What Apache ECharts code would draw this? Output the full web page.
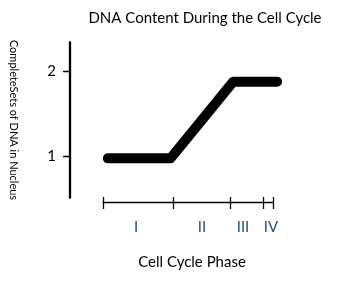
<!DOCTYPE html>
<html><head><meta charset="utf-8">
<script src="https://cdn.jsdelivr.net/npm/echarts@6/dist/echarts.min.js"></script>
<style>html,body{margin:0;padding:0;background:#fff}#c{width:345px;height:287px}</style>
</head><body><div id="c"></div>
<script>
// Data
const lineX = [0.4, 6.7, 13.0, 17.4];
const lineY = [0.97, 0.97, 1.88, 1.88];
const phaseBoundaries = [0, 7, 12.7, 16, 17];
const phaseLabelPos = [3.3, 9.9, 14, 16.8];
const phaseLabels = ['I', 'II', 'III', 'IV'];
const yTicks = [1, 2];

const F = 'Lato, "Open Sans", sans-serif';
const chart = echarts.init(document.getElementById('c'));
const labelMap = {};
phaseLabelPos.forEach((p, i) => labelMap[p] = phaseLabels[i]);

chart.setOption({
  animation: false,
  title: {
    text: 'DNA Content During the Cell Cycle',
    left: 200, top: 6, textAlign: 'center',
    textStyle: {fontFamily: F, fontSize: 15, fontWeight: 'normal', color: '#000'}
  },
  grid: [
    {left: 69, top: 42, width: 220, height: 156},
    {left: 103, top: 100, width: 170, height: 102}
  ],
  xAxis: [
    {gridIndex: 0, type: 'value', min: -3.4, max: 18.6, show: false},
    {gridIndex: 1, type: 'value', min: 0, max: 17, position: 'bottom',
     axisLine: {show: true, onZero: false, lineStyle: {color: '#000', width: 1.3}},
     axisTick: {show: true, inside: false, length: 7, customValues: phaseBoundaries, lineStyle: {color: '#000', width: 1.3}},
     axisLabel: {show: true, customValues: phaseLabelPos, formatter: v => labelMap[v] || '', margin: 18,
       fontFamily: F, fontSize: 15, color: '#1f4e8c'},
     splitLine: {show: false},
     name: 'Cell Cycle Phase', nameLocation: 'middle', nameGap: 53,
     nameTextStyle: {fontFamily: F, fontSize: 15, color: '#000', padding: [0, 0, 0, 8]}},
    {gridIndex: 1, type: 'value', min: 0, max: 17, position: 'bottom',
     axisLine: {show: false, onZero: false},
     axisTick: {show: true, inside: true, length: 5, customValues: phaseBoundaries, lineStyle: {color: '#000', width: 1.3}},
     axisLabel: {show: false}, splitLine: {show: false}}
  ],
  yAxis: [
    {gridIndex: 0, type: 'value', min: 0.5, max: 2.35, position: 'left',
     axisLine: {show: true, onZero: false, lineStyle: {color: '#000', width: 1.3}},
     axisTick: {show: true, inside: false, length: 6, customValues: yTicks, lineStyle: {color: '#000', width: 1.3}},
     axisLabel: {customValues: yTicks, margin: 14, fontFamily: F, fontSize: 15, color: '#000'},
     splitLine: {show: false},
     name: 'CompleteSets of DNA in Nucleus', nameLocation: 'middle', nameRotate: -90, nameGap: 51,
     nameTextStyle: {fontFamily: F, fontSize: 11, color: '#000'}},
    {gridIndex: 1, type: 'value', show: false},
    {gridIndex: 0, type: 'value', min: 0.5, max: 2.35, position: 'right', offset: -220,
     axisLine: {show: true, onZero: false, lineStyle: {color: '#000', width: 1.3}},
     axisTick: {show: true, inside: true, length: 6, customValues: yTicks, lineStyle: {color: '#000', width: 1.3}},
     axisLabel: {show: false}, splitLine: {show: false}}
  ],
  series: [{
    type: 'line', xAxisIndex: 0, yAxisIndex: 0,
    data: lineX.map((x, i) => [x, lineY[i]]),
    symbol: 'none',
    lineStyle: {color: '#000', width: 10, cap: 'round', join: 'round'}
  }]
});
</script></body></html>
